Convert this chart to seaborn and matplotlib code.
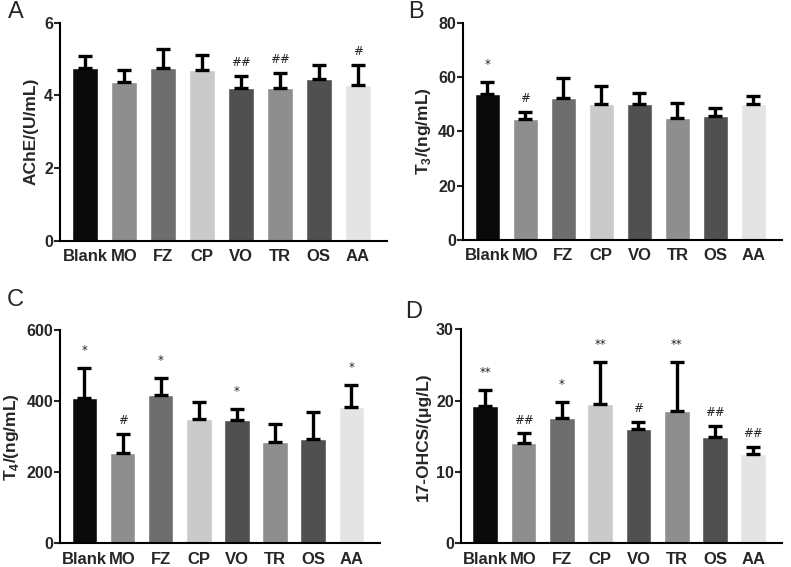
import pandas as pd
import numpy as np
import matplotlib
matplotlib.use("Agg")
import matplotlib.pyplot as plt
import seaborn as sns

sns.set_style("ticks")
plt.rcParams['font.family'] = ['Liberation Sans', 'DejaVu Sans']
plt.rcParams['mathtext.fontset'] = 'custom'
plt.rcParams['mathtext.bf'] = 'Liberation Sans:bold'
plt.rcParams['mathtext.rm'] = 'Liberation Sans'

# Data
groups = ["Blank", "MO", "FZ", "CP", "VO", "TR", "OS", "AA"]
bar_colors = ["#0a0a0a", "#8e8e8e", "#6e6e6e", "#cacaca",
              "#505050", "#8e8e8e", "#505050", "#e4e4e4"]

ache_mean = [4.76, 4.38, 4.75, 4.70, 4.20, 4.21, 4.44, 4.29]
ache_sd = [0.31, 0.32, 0.52, 0.41, 0.34, 0.40, 0.39, 0.54]
ache_marks = ["", "", "", "", "##", "##", "", "#"]

t3_mean = [53.6, 44.4, 52.4, 50.1, 50.1, 45.0, 45.7, 49.9]
t3_sd = [4.4, 2.9, 7.4, 6.5, 4.0, 5.6, 2.8, 3.2]
t3_marks = ["*", "#", "", "", "", "", "", ""]

t4_mean = [410, 253, 416, 351, 348, 284, 293, 383]
t4_sd = [84, 54, 50, 46, 30, 51, 75, 62]
t4_marks = ["*", "#", "*", "", "*", "", "", "*"]

ohcs_mean = [19.25, 14.0, 17.5, 19.5, 16.0, 18.55, 14.95, 12.5]
ohcs_sd = [2.25, 1.4, 2.3, 5.9, 1.0, 6.85, 1.5, 0.95]
ohcs_marks = ["**", "##", "*", "**", "#", "**", "##", "##"]

panels = [
    ("A", ache_mean, ache_sd, ache_marks, "AChE/(U/mL)", 6, [0, 2, 4, 6],
     [0.0759, 0.5755, 0.4131, 0.3845]),
    ("B", t3_mean, t3_sd, t3_marks, r"T$_\mathbf{3}$/(ng/mL)", 80, [0, 20, 40, 60, 80],
     [0.5853, 0.5767, 0.4033, 0.3833]),
    ("C", t4_mean, t4_sd, t4_marks, r"T$_\mathbf{4}$/(ng/mL)", 600, [0, 200, 400, 600],
     [0.0759, 0.0418, 0.4045, 0.3762]),
    ("D", ohcs_mean, ohcs_sd, ohcs_marks, "17-OHCS/(μg/L)", 30, [0, 10, 20, 30],
     [0.5825, 0.0418, 0.4061, 0.3774]),
]
letter_pos = [(0.010, 0.998), (0.516, 0.998), (0.008, 0.490), (0.512, 0.470)]

fig = plt.figure(figsize=(7.91, 5.67), dpi=100)

for (letter, mean, sd, marks, ylabel, ymax, yticks, rect), lp in zip(panels, letter_pos):
    ax = fig.add_axes(rect)
    df = pd.DataFrame({"group": groups, "value": mean})
    sns.barplot(data=df, x="group", y="value", hue="group", palette=bar_colors,
                errorbar=None, width=0.67, legend=False, ax=ax)
    x = np.arange(len(groups))
    ax.errorbar(x, mean, yerr=[np.zeros(len(sd)), sd], fmt="none", ecolor="black",
                elinewidth=2.4, capsize=5, capthick=2.4)
    for xi, m, s, t in zip(x, mean, sd, marks):
        if t:
            # stars sit a bit higher than hashes in the original
            off = 8 if "*" in t else 5
            ax.annotate(t, (xi, m + s), xytext=(0, off), textcoords="offset points",
                        ha="center", va="bottom", fontsize=8.5, color="#222222",
                        family=["DejaVu Sans"])
    ax.set_xlim(-0.64, 7.75)
    ax.set_ylim(0, ymax)
    ax.set_yticks(yticks)
    ax.set_xlabel("")
    ax.set_ylabel(ylabel, fontsize=12.5, fontweight="bold", labelpad=4)
    sns.despine(ax=ax)
    for sp in ["left", "bottom"]:
        ax.spines[sp].set_linewidth(1.5)
        ax.spines[sp].set_color("black")
    ax.tick_params(axis="y", direction="out", length=4, width=1.5, labelsize=11.5, pad=1)
    ax.tick_params(axis="x", length=0, labelsize=12, pad=6)
    for lab in ax.get_xticklabels() + ax.get_yticklabels():
        lab.set_fontweight("bold")
    fig.text(lp[0], lp[1], letter, fontsize=17, ha="left", va="top")

fig.savefig("out.png", dpi=100)
